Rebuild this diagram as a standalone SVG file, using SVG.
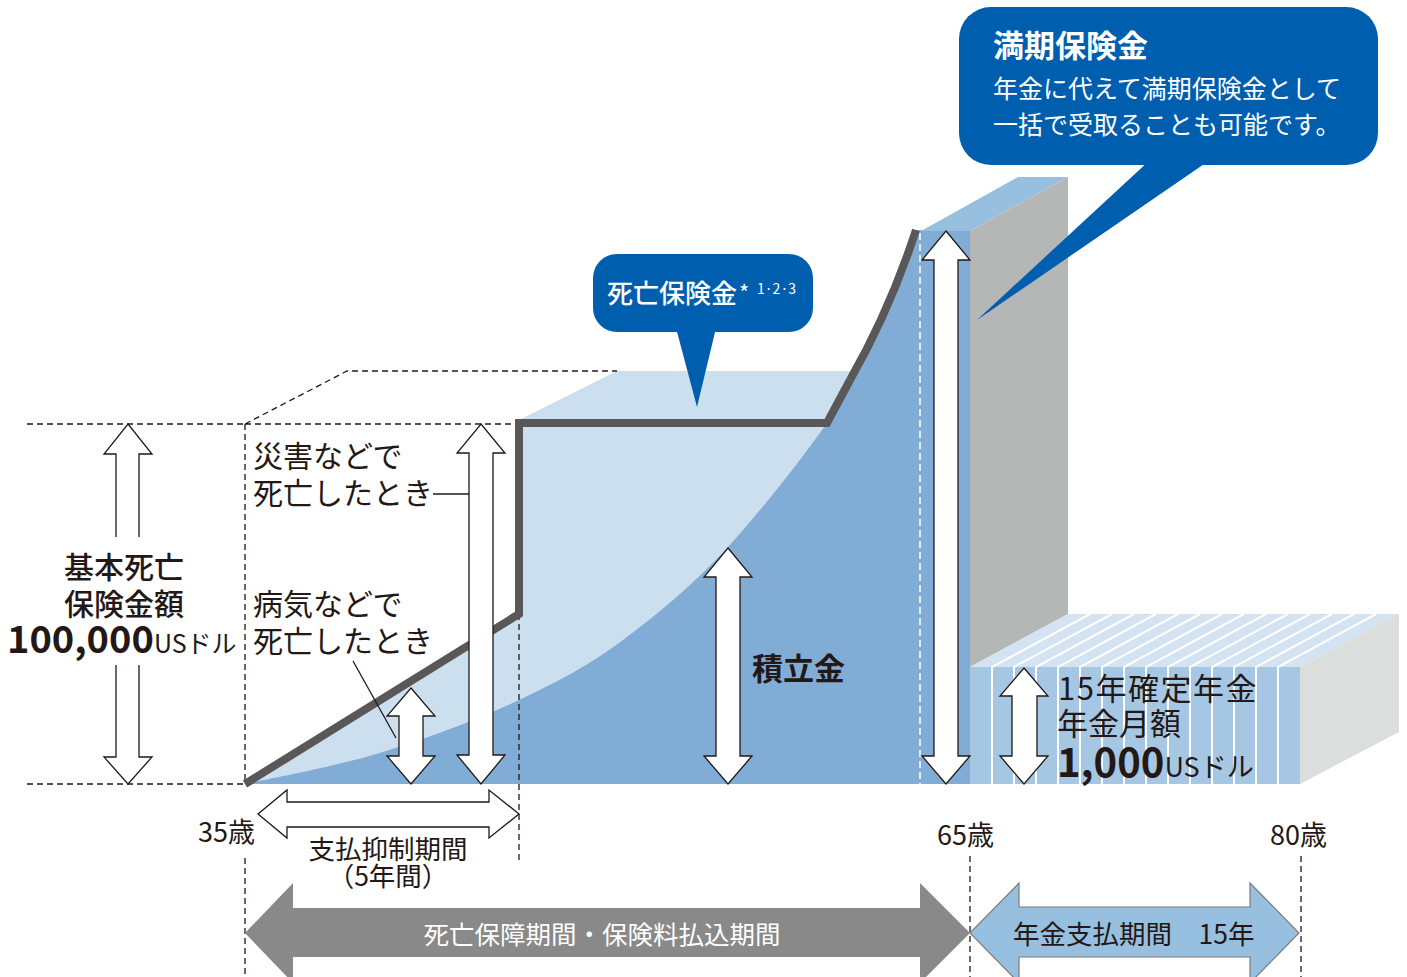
<svg xmlns="http://www.w3.org/2000/svg" width="1407" height="977" viewBox="0 0 1407 977">
<defs>
<style>
text{font-family:"Noto Sans CJK JP","Noto Sans",sans-serif;fill:#231815}
.t30{font-size:30px}
.t27{font-size:27px}
.dash{fill:none;stroke:#231815;stroke-width:1.3;stroke-dasharray:6 4}
.wdash{fill:none;stroke:#ffffff;stroke-width:1.5;stroke-dasharray:7 4}
.arr{fill:#ffffff;stroke:#231815;stroke-width:1.3;stroke-linejoin:miter}
.strip{stroke:#ffffff;stroke-width:2;fill:none}
</style>
</defs>
<rect width="1407" height="977" fill="#ffffff"/>

<g id="areas">
  <polygon points="245,784 519,614 519,420 617,371 870,371 870,784" fill="#CCDFEE"/>
  <path d="M245,784 C268,779 338,766 383,752 C428,738 477,720 517,701 C557,682 588,666 623,640 C658,614 694,584 727,548 C760,512 801,460 827,423 L850,380 Q890,310 916,230 L970,230 L970,784 Z" fill="#80ACD5"/>
</g>

<g id="column">
  <polygon points="921,231 970,231 1068,177 1018,177" fill="#97BFDF"/>
  <polygon points="970,231 1068,177 1068,614 970,667" fill="#B5B6B6"/>
</g>

<g id="pension-block">
  <rect x="970" y="667" width="330" height="117" fill="#A6C7E3"/>
  <polygon points="970,667 1068,614 1399,614 1300,667" fill="#D3E3F1"/>
  <polygon points="1300,667 1399,614 1399,732 1300,784" fill="#DCDDDD"/>
  <g class="strip">
    <path d="M992,784V667L1090,614M1014,784V667L1112,614M1036,784V667L1134,614M1058,784V667L1156,614M1080,784V667L1178,614M1102,784V667L1200,614M1124,784V667L1222,614M1146,784V667L1244,614M1168,784V667L1266,614M1190,784V667L1288,614M1212,784V667L1310,614M1234,784V667L1332,614M1256,784V667L1354,614M1278,784V667L1376,614"/>
  </g>
</g>

<g id="guides">
  <path class="dash" d="M27,424H245M27,784H245M245,424V784M245,424L347,371H617M245,424H519M519,614V860M245,858V977M970,856V977M1301,856V977"/>
  <path class="wdash" d="M920,233V784"/>
</g>

<g id="connectors">
  <polyline points="245,784 519,614 519,423 827,423 850,380" fill="none" stroke="#595757" stroke-width="8" stroke-linejoin="miter"/>
  <path d="M850,380 Q890,310 916,230" fill="none" stroke="#595757" stroke-width="8"/>
  <line x1="433" y1="494" x2="469" y2="494" stroke="#231815" stroke-width="1.3"/>
  <line x1="353" y1="661" x2="396" y2="738" stroke="#231815" stroke-width="1.3"/>
</g>

<g id="arrow-base">
  <polygon class="arr" points="128,424 152,454 139,454 139,757 152,757 128,784 104,757 116,757 116,454 104,454"/>
  <rect x="110" y="537" width="36" height="128" fill="#ffffff"/>
</g>
<g id="arrow-accident">
  <polygon class="arr" points="481,424 505,453 493,453 493,755 505,755 481,784 457,755 469,755 469,453 457,453"/>
</g>
<g id="arrow-illness">
  <polygon class="arr" points="411,688 435,716 423,716 423,756 435,756 411,784 387,756 399,756 399,716 387,716"/>
</g>
<g id="arrow-reserve">
  <polygon class="arr" points="728,548 752,577 740,577 740,756 752,756 728,784 704,756 716,756 716,577 704,577"/>
</g>
<g id="arrow-maturity">
  <polygon class="arr" points="946,231 970,260 958,260 958,756 970,756 946,784 922,756 934,756 934,260 922,260"/>
</g>
<g id="arrow-pension">
  <polygon class="arr" points="1024,668 1048,696 1037,696 1037,756 1048,756 1024,784 1000,756 1012,756 1012,696 1000,696"/>
</g>
<g id="arrow-deferral">
  <polygon class="arr" points="258,814 287,790 287,802 489,802 489,790 519,814 489,838 489,827 287,827 287,838"/>
</g>

<g id="period-death">
  <polygon points="245,933 293,883 293,908 920,908 920,883 970,933 920,983 920,957 293,957 293,983" fill="#898989"/>
  <text x="602" y="944" text-anchor="middle" style="font-size:25.5px;fill:#ffffff">死亡保障期間・保険料払込期間</text>
</g>
<g id="period-pension">
  <polygon points="970,933 1019,883 1019,907 1250,907 1250,883 1299,933 1250,983 1250,957 1019,957 1019,983" fill="#97BFDF" stroke="#7d7d7d" stroke-width="1.2"/>
  <text x="1013" y="944" style="font-size:26.5px">年金支払期間　15年</text>
</g>

<g id="callout-maturity">
  <rect x="959" y="7" width="419" height="158" rx="32" fill="#005EAE"/>
  <polygon points="1150,160 1210,160 977,320" fill="#005EAE"/>
  <text x="993" y="57" style="font-size:31px;font-weight:700;fill:#ffffff">満期保険金</text>
  <text x="993" y="98" style="font-size:25px;fill:#ffffff">年金に代えて満期保険金として</text>
  <text x="993" y="134" style="font-size:25px;fill:#ffffff">一括で受取ることも可能です。</text>
</g>

<g id="callout-death">
  <rect x="593" y="254" width="220" height="78" rx="24" fill="#005EAE"/>
  <polygon points="676,328 716,328 697,407" fill="#005EAE"/>
  <text x="607" y="303" style="font-size:26px;font-weight:500;fill:#ffffff">死亡保険金</text>
  <text x="739" y="301" style="font-size:22px;fill:#ffffff">*</text>
  <text x="757" y="294" style="font-size:14px;fill:#ffffff">1·2·3</text>
</g>

<g id="label-base">
  <text x="124" y="578" text-anchor="middle" style="font-size:30px;font-weight:500">基本死亡</text>
  <text x="124" y="615" text-anchor="middle" style="font-size:30px;font-weight:500">保険金額</text>
  <text x="7" y="653"><tspan style="font-size:38px;font-weight:700">100,000</tspan><tspan style="font-size:25px">USドル</tspan></text>
</g>
<g id="label-accident">
  <text x="253" y="467" class="t30">災害などで</text>
  <text x="253" y="504" class="t30">死亡したとき</text>
</g>
<g id="label-illness">
  <text x="253" y="615" class="t30">病気などで</text>
  <text x="253" y="652" class="t30">死亡したとき</text>
</g>
<g id="label-reserve">
  <text x="752" y="680" style="font-size:31px;font-weight:700">積立金</text>
</g>
<g id="label-pension">
  <text x="1058" y="700" style="font-size:31px;letter-spacing:1.5px">15年確定年金</text>
  <text x="1057" y="735" style="font-size:31px">年金月額</text>
  <text x="1057" y="777"><tspan style="font-size:40px;font-weight:700">1,000</tspan><tspan style="font-size:27px">USドル</tspan></text>
</g>
<g id="label-deferral">
  <text x="388" y="859" text-anchor="middle" style="font-size:26.5px">支払抑制期間</text>
  <text x="388" y="886" text-anchor="middle" style="font-size:26.5px">（5年間）</text>
</g>
<g id="ages">
  <text x="198" y="842" class="t27">35歳</text>
  <text x="937" y="845" class="t27">65歳</text>
  <text x="1270" y="845" class="t27">80歳</text>
</g>
</svg>
